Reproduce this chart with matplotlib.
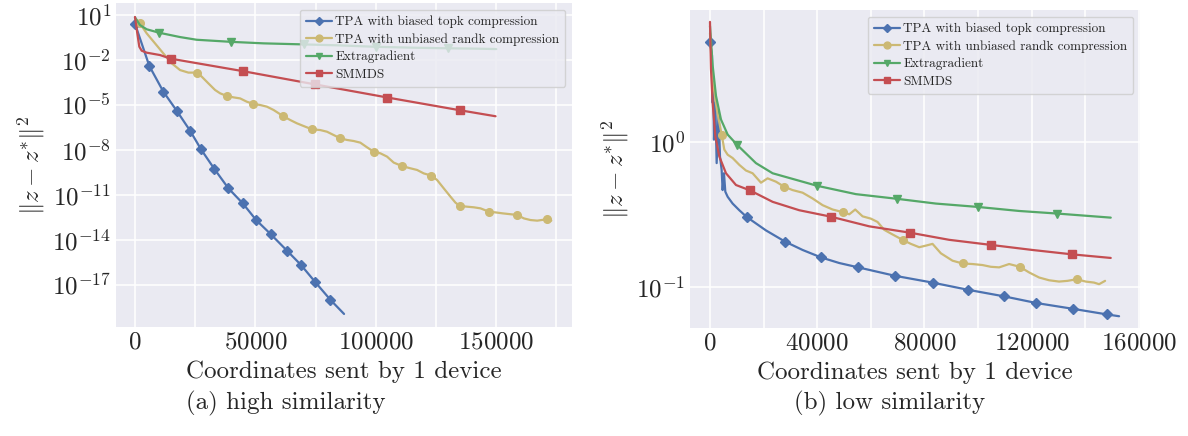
import numpy as np
import matplotlib
matplotlib.use("Agg")
import matplotlib.pyplot as plt
from matplotlib.ticker import FixedLocator, NullLocator, MultipleLocator, LogFormatterSciNotation

# ---------------- data (x: coordinates sent, y: log10 of ||z - z*||^2) ----------------
labels = ["TPA with biased topk compression", "TPA with unbiased randk compression",
          "Extragradient", "SMMDS"]
colors = ["#4C72B0", "#CCB974", "#55A868", "#C44E52"]
markers = ["D", "o", "v", "s"]

# (a) high similarity
a_topk_x = [0, 5960, 11780, 17320, 22870, 27440, 32990, 38810, 44770, 50310, 56410,
            63050, 68910, 74920, 81090, 86800]
a_topk_log = [0.42, -2.40, -4.11, -5.38, -6.71, -7.96, -9.27, -10.56, -11.56, -12.67, -13.62,
              -14.70, -15.66, -16.82, -17.98, -18.93]
a_topk_marks = list(range(15))

a_randk_x = [0, 2000, 4850, 8320, 11780, 15250, 18710, 22180, 25640, 27720, 30490, 33260,
             35340, 38120, 40890, 43660, 46430, 49200, 51980, 54750, 57520, 61400, 64450,
             67220, 69990, 73460, 76920, 79700, 82470, 85240, 88010, 90790, 93560, 96330,
             99100, 101870, 104650, 107420, 110880, 114350, 117120, 119890, 123080, 125430,
             128210, 130980, 133060, 134860, 137910, 140680, 143450, 146920, 149690, 152460,
             155230, 158700, 161470, 164240, 167010, 170890, 172830]
a_randk_log = [0.80, 0.45, -0.22, -0.89, -1.56, -2.22, -2.67, -2.84, -2.84, -3.11, -3.56, -4.00,
               -4.22, -4.40, -4.49, -4.56, -4.78, -4.93, -5.00, -5.11, -5.33, -5.73, -6.00,
               -6.22, -6.40, -6.62, -6.67, -6.78, -7.00, -7.22, -7.33, -7.40, -7.51, -7.82,
               -8.11, -8.22, -8.44, -8.84, -9.07, -9.22, -9.33, -9.56, -9.71, -10.00,
               -10.56, -11.11, -11.51, -11.73, -11.78, -11.82, -11.89, -12.11, -12.16, -12.22,
               -12.27, -12.33, -12.56, -12.67, -12.71, -12.62, -12.71]
a_randk_marks = [1, 8, 13, 17, 21, 25, 29, 34, 38, 42, 47, 51, 55, 59]

a_eg_x = [0, 2070, 4840, 10000, 18700, 25600, 40000, 53400, 70000, 83900, 100000, 115700,
          130000, 140700, 150000]
a_eg_log = [0.84, 0.33, 0.05, -0.18, -0.47, -0.65, -0.79, -0.89, -0.96, -1.02, -1.12, -1.18,
            -1.22, -1.24, -1.27]
a_eg_marks = [3, 6, 8, 10, 12]

a_smm_x = [0, 960, 1790, 2780, 4840, 10400, 14800, 44700, 74900, 104800, 134900, 149700]
a_smm_log = [0.87, -0.22, -1.11, -1.38, -1.51, -1.67, -1.91, -2.74, -3.63, -4.50, -5.35, -5.75]
a_smm_marks = [6, 7, 8, 9, 10]

# (b) low similarity
b_topk_x = [0, 750, 990, 1240, 1490, 1990, 2490, 3230, 3730, 4350, 4720, 5220, 5720, 6590,
            8450, 10940, 13670, 20880, 27970, 34560, 41390, 48230, 55310, 68990, 83030,
            96090, 109760, 121810, 135490, 148290, 152640]
b_topk_log = [0.689, 0.596, 0.271, 0.411, 0.016, 0.271, -0.146, 0.213, -0.100, -0.193,
              -0.332, -0.216, -0.343, -0.378, -0.425, -0.471, -0.517, -0.610, -0.687,
              -0.745, -0.796, -0.835, -0.865, -0.923, -0.970, -1.019, -1.065, -1.111,
              -1.151, -1.190, -1.202]
b_topk_marks = [0, 16, 18, 20, 22, 23, 24, 25, 26, 27, 28, 29]

b_randk_x = [0, 1000, 2600, 4350, 5350, 6590, 8450, 10940, 13420, 15910, 19020, 21500, 24610,
             27720, 30830, 34560, 38290, 42020, 45750, 49720, 51960, 54200, 56930, 60040,
             62530, 65010, 68120, 71850, 74960, 78070, 80560, 83040, 86150, 90500, 94220,
             97950, 101680, 104790, 107900, 111620, 115600, 119080, 122810, 126540, 130260,
             133370, 136850, 140210, 143320, 145180, 147420]
b_randk_log = [0.75, 0.42, 0.22, 0.051, -0.053, -0.088, -0.111, -0.158, -0.197, -0.216, -0.281,
               -0.251, -0.274, -0.309, -0.332, -0.350, -0.390, -0.436, -0.466, -0.485, -0.499,
               -0.466, -0.513, -0.529, -0.552, -0.606, -0.638, -0.675, -0.703, -0.726, -0.715,
               -0.703, -0.768, -0.819, -0.838, -0.842, -0.849, -0.861, -0.865, -0.842, -0.861,
               -0.900, -0.935, -0.954, -0.963, -0.958, -0.947, -0.963, -0.970, -0.981, -0.958]
b_randk_marks = [3, 13, 19, 27, 34, 40, 46]

b_eg_x = [0, 1000, 2240, 4100, 6590, 10070, 17150, 23370, 39900, 54440, 69730, 84280, 99820,
          115350, 129650, 149530]
b_eg_log = [0.80, 0.527, 0.318, 0.155, 0.051, -0.019, -0.146, -0.216, -0.302, -0.360, -0.392,
            -0.425, -0.448, -0.476, -0.494, -0.522]
b_eg_marks = [5, 8, 10, 12, 14]

b_smm_x = [0, 370, 990, 1990, 3480, 5970, 9700, 14920, 23370, 33310, 45000, 59420, 74700,
           89250, 104780, 120320, 134990, 149530]
b_smm_log = [0.828, 0.503, 0.271, 0.039, -0.100, -0.216, -0.297, -0.334, -0.413, -0.471,
             -0.515, -0.582, -0.626, -0.675, -0.710, -0.745, -0.775, -0.800]
b_smm_marks = [7, 10, 12, 14, 16]

a_yticks_exp = [1, -2, -5, -8, -11, -14, -17]
b_yticks_exp = [0, -1]

# ---------------- style ----------------
plt.style.use("seaborn-v0_8-darkgrid")
plt.rcParams.update({
    "font.family": "serif",
    "font.serif": ["cmr10"],
    "mathtext.fontset": "cm",
    "axes.formatter.use_mathtext": True,
    "axes.unicode_minus": True,
})

FS = 18
fig = plt.figure(figsize=(11.88, 4.36), dpi=100)
axA = fig.add_axes([0.0976, 0.250, 0.3838, 0.7431])
axB = fig.add_axes([0.5808, 0.2477, 0.3788, 0.7294])

msizes = {"D": 5.0, "o": 5.5, "v": 5.5, "s": 5.5}


def draw(ax, series):
    for (x, lg, mk), c, m, lab in zip(series, colors, markers, labels):
        ax.plot(x, 10.0 ** np.asarray(lg), color=c, lw=1.6, marker=m, markevery=mk,
                ms=msizes[m], mec=c, mfc=c, label=lab)
    ax.set_yscale("log")
    ax.yaxis.set_minor_locator(NullLocator())
    ax.yaxis.set_major_formatter(LogFormatterSciNotation())
    ax.grid(True, which="major", color="white", lw=1.1)
    ax.grid(True, which="minor", axis="x", color="white", lw=1.1)
    ax.tick_params(axis="both", which="both", labelsize=FS, length=0)
    ax.set_xlabel("Coordinates sent by 1 device", fontsize=FS, labelpad=5)
    ax.set_ylabel(r"$\|z - z^{*}\|^{2}$", fontsize=FS)
    ax.legend(loc="upper right", fontsize=9.5, labelspacing=0.38, handlelength=2.0,
              handletextpad=0.25, borderpad=0.45, frameon=True, fancybox=True,
              framealpha=0.8, edgecolor="0.8", facecolor="#EAEAF2", markerscale=0.9)


draw(axA, [(a_topk_x, a_topk_log, a_topk_marks), (a_randk_x, a_randk_log, a_randk_marks),
           (a_eg_x, a_eg_log, a_eg_marks), (a_smm_x, a_smm_log, a_smm_marks)])
axA.set_xlim(-7900, 181400)
axA.set_ylim(10 ** -19.8, 10 ** 1.8)
axA.yaxis.set_major_locator(FixedLocator([10.0 ** e for e in a_yticks_exp]))
axA.xaxis.set_major_locator(MultipleLocator(50000))
axA.xaxis.set_minor_locator(MultipleLocator(25000))

draw(axB, [(b_topk_x, b_topk_log, b_topk_marks), (b_randk_x, b_randk_log, b_randk_marks),
           (b_eg_x, b_eg_log, b_eg_marks), (b_smm_x, b_smm_log, b_smm_marks)])
axB.set_xlim(-7460, 160450)
axB.set_ylim(0.0521, 8.13)
axB.yaxis.set_major_locator(FixedLocator([10.0 ** e for e in b_yticks_exp]))
axB.xaxis.set_major_locator(MultipleLocator(40000))
axB.xaxis.set_minor_locator(MultipleLocator(20000))

fig.text(0.2407, 0.075, "(a) high similarity", ha="center", va="center", fontsize=FS)
fig.text(0.749, 0.075, "(b) low similarity", ha="center", va="center", fontsize=FS)

fig.savefig("out.png", dpi=100)
